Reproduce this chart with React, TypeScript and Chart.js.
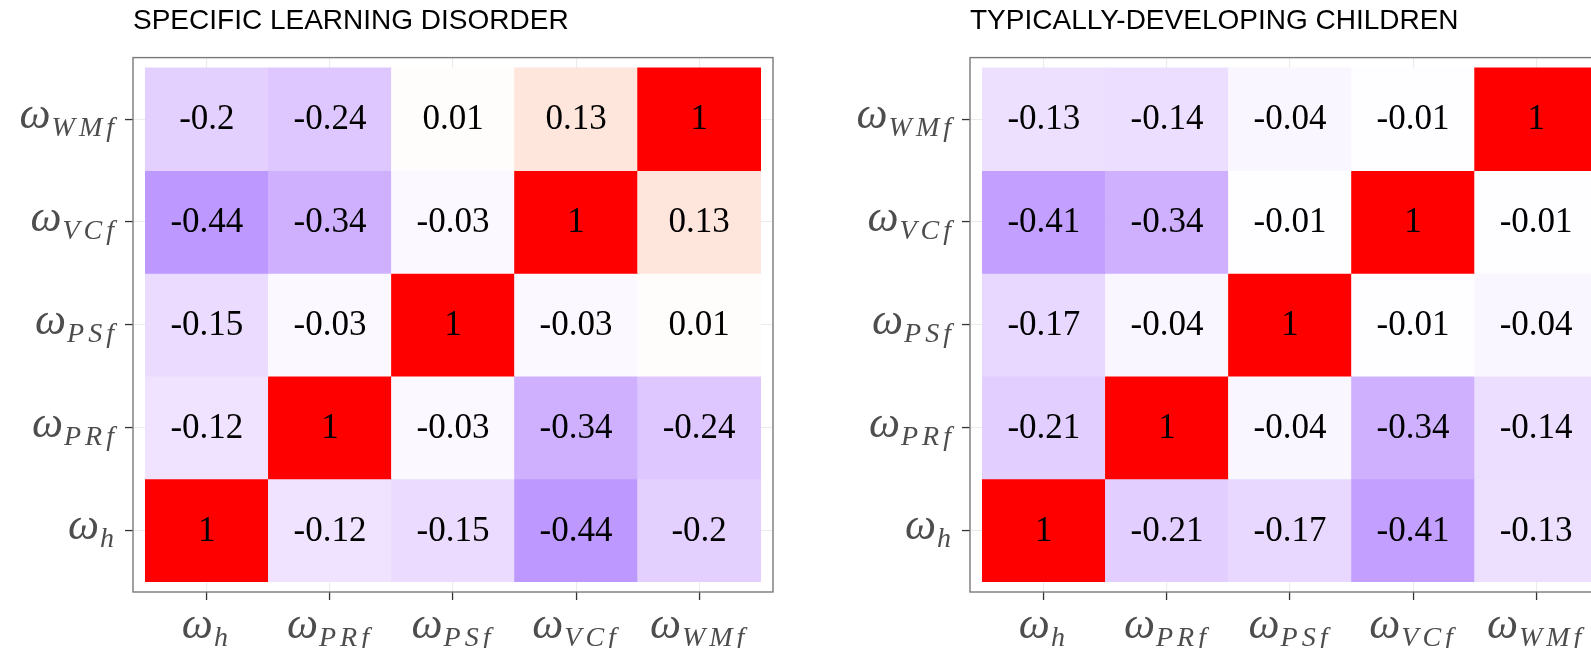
import React, { useEffect, useRef } from 'react';
import { Chart, registerables } from 'chart.js';

Chart.register(...registerables);

// ---- data ----
const axisLabels = ['ω_h', 'ω_PRf', 'ω_PSf', 'ω_VCf', 'ω_WMf'];
const axisPositions = [1, 2, 3, 4, 5];

const sldTitle = 'SPECIFIC LEARNING DISORDER';
const tdTitle = 'TYPICALLY-DEVELOPING CHILDREN';

// rows from bottom (ω_h) to top (ω_WMf); columns ω_h .. ω_WMf
const sldRowH = [1, -0.12, -0.15, -0.44, -0.2];
const sldRowPRf = [-0.12, 1, -0.03, -0.34, -0.24];
const sldRowPSf = [-0.15, -0.03, 1, -0.03, 0.01];
const sldRowVCf = [-0.44, -0.34, -0.03, 1, 0.13];
const sldRowWMf = [-0.2, -0.24, 0.01, 0.13, 1];

const tdRowH = [1, -0.21, -0.17, -0.41, -0.13];
const tdRowPRf = [-0.21, 1, -0.04, -0.34, -0.14];
const tdRowPSf = [-0.17, -0.04, 1, -0.01, -0.04];
const tdRowVCf = [-0.41, -0.34, -0.01, 1, -0.01];
const tdRowWMf = [-0.13, -0.14, -0.04, -0.01, 1];

const sldRows = [sldRowH, sldRowPRf, sldRowPSf, sldRowVCf, sldRowWMf];
const tdRows = [tdRowH, tdRowPRf, tdRowPSf, tdRowVCf, tdRowWMf];

// ---- colour scale (white -> blue / white -> red, Lab interpolation) ----
const Xn = 0.95047, Yn = 1.0, Zn = 1.08883;
function toLin(c: number) { c /= 255; return c <= 0.04045 ? c / 12.92 : Math.pow((c + 0.055) / 1.055, 2.4); }
function fromLin(c: number) { c = Math.max(0, Math.min(1, c)); const v = c <= 0.0031308 ? 12.92 * c : 1.055 * Math.pow(c, 1 / 2.4) - 0.055; return Math.round(v * 255); }
function f(t: number) { return t > 216 / 24389 ? Math.cbrt(t) : (t * 24389 / 27 + 16) / 116; }
function finv(t: number) { return t * t * t > 216 / 24389 ? t * t * t : (116 * t - 16) * 27 / 24389; }
function rgbToLab(rgb: number[]) {
  const [r, g, b] = rgb.map(toLin);
  const X = 0.4124 * r + 0.3576 * g + 0.1805 * b;
  const Y = 0.2126 * r + 0.7152 * g + 0.0722 * b;
  const Z = 0.0193 * r + 0.1192 * g + 0.9505 * b;
  const fx = f(X / Xn), fy = f(Y / Yn), fz = f(Z / Zn);
  return [116 * fy - 16, 500 * (fx - fy), 200 * (fy - fz)];
}
function labToRgb(lab: number[]) {
  const [L, a, bb] = lab;
  const fy = (L + 16) / 116, fx = fy + a / 500, fz = fy - bb / 200;
  const X = Xn * finv(fx), Y = Yn * finv(fy), Z = Zn * finv(fz);
  const r = 3.2406 * X - 1.5372 * Y - 0.4986 * Z;
  const g = -0.9689 * X + 1.8758 * Y + 0.0415 * Z;
  const b = 0.0557 * X - 0.204 * Y + 1.057 * Z;
  return [fromLin(r), fromLin(g), fromLin(b)];
}
const labWhite = rgbToLab([255, 255, 255]);
const labBlue = rgbToLab([0, 0, 255]);
const labRed = rgbToLab([255, 0, 0]);
function fillColor(v: number) {
  const t = Math.min(1, Math.abs(v));
  const end = v < 0 ? labBlue : labRed;
  const lab = labWhite.map((w, i) => w + (end[i] - w) * t);
  const [r, g, b] = labToRgb(lab);
  return `rgb(${r},${g},${b})`;
}

// ---- drawing helpers ----
const MATH_FONT = '"Liberation Serif", "DejaVu Serif", serif';
const BASE_SIZE = 44;
const SUB_SIZE = 28;
const SUB_SPACING = '4px';
const LABEL_COLOR = '#4d4d4d';

function drawMathLabel(ctx: CanvasRenderingContext2D, label: string, x: number, baseline: number, align: 'right' | 'center') {
  const [base, sub] = label.split('_');
  (ctx as any).letterSpacing = '0px';
  ctx.font = `italic ${BASE_SIZE}px ${MATH_FONT}`;
  const wb = ctx.measureText(base).width;
  ctx.font = `italic ${SUB_SIZE}px ${MATH_FONT}`;
  (ctx as any).letterSpacing = SUB_SPACING;
  const ws = ctx.measureText(sub).width;
  const gap = 1;
  const total = wb + gap + ws;
  const left = align === 'right' ? x - total : x - total / 2;
  ctx.textAlign = 'left';
  ctx.textBaseline = 'alphabetic';
  ctx.fillStyle = LABEL_COLOR;
  (ctx as any).letterSpacing = '0px';
  ctx.font = `italic ${BASE_SIZE}px ${MATH_FONT}`;
  ctx.fillText(base, left, baseline);
  ctx.font = `italic ${SUB_SIZE}px ${MATH_FONT}`;
  (ctx as any).letterSpacing = SUB_SPACING;
  ctx.fillText(sub, left + wb + gap, baseline + 8);
  (ctx as any).letterSpacing = '0px';
}

const decorPlugin = {
  id: 'heatDecor',
  afterDatasetsDraw(chart: any) {
    const ctx = chart.ctx as CanvasRenderingContext2D;
    const meta = chart.getDatasetMeta(0);
    const raw = chart.data.datasets[0].data as any[];
    ctx.save();
    ctx.fillStyle = '#000';
    ctx.font = `35px ${MATH_FONT}`;
    ctx.textAlign = 'center';
    ctx.textBaseline = 'middle';
    meta.data.forEach((el: any, i: number) => {
      const cy = (el.y + el.base) / 2;
      ctx.fillText(String(raw[i].v), el.x, cy + 1);
    });
    ctx.restore();
  },
  afterDraw(chart: any) {
    const ctx = chart.ctx as CanvasRenderingContext2D;
    const area = chart.chartArea;
    ctx.save();
    ctx.strokeStyle = '#7a7a7a';
    ctx.lineWidth = 1.4;
    ctx.strokeRect(area.left, area.top, area.right - area.left, area.bottom - area.top);
    const xs = chart.scales.x;
    const ys = chart.scales.y;
    axisPositions.forEach((p, i) => {
      const py = ys.getPixelForValue(p);
      drawMathLabel(ctx, axisLabels[i], area.left - 15, py + 9, 'right');
      const px = xs.getPixelForValue(p);
      drawMathLabel(ctx, axisLabels[i], px, area.bottom + 46, 'center');
    });
    ctx.restore();
  },
};

function HeatPanel({ title, rows, left }: { title: string; rows: number[][]; left: number }) {
  const ref = useRef<HTMLCanvasElement>(null);
  useEffect(() => {
    const cells: any[] = [];
    rows.forEach((row, ri) => {
      row.forEach((v, ci) => {
        const yc = axisPositions[ri];
        cells.push({ x: axisPositions[ci], y: [yc - 0.5, yc + 0.5], v });
      });
    });
    const gridCommon = {
      color: '#ebebeb',
      lineWidth: 1.1,
      drawTicks: true,
      tickLength: 8,
      tickColor: '#333333',
      tickWidth: 1.3,
      offset: false,
    };
    const chart = new Chart(ref.current as HTMLCanvasElement, {
      type: 'bar',
      data: {
        datasets: [
          {
            data: cells,
            backgroundColor: cells.map((c) => fillColor(c.v)),
            borderWidth: 0,
            barPercentage: 1,
            categoryPercentage: 1,
          } as any,
        ],
      },
      options: {
        animation: false,
        responsive: false,
        layout: { padding: { left: 0, right: 27, top: 0, bottom: 0 } },
        plugins: {
          legend: { display: false },
          tooltip: { enabled: false },
          title: {
            display: true,
            text: title,
            align: 'start',
            fullSize: false,
            color: '#000',
            font: { family: '"Liberation Sans", Arial, sans-serif', size: 28, weight: 'normal' },
            padding: { top: 4, bottom: 20 },
          },
        },
        scales: {
          x: {
            type: 'linear',
            min: 0.4,
            max: 5.6,
            offset: false,
            grid: gridCommon,
            border: { display: false },
            ticks: { display: false },
            afterBuildTicks: (axis: any) => { axis.ticks = axisPositions.map((v) => ({ value: v })); },
            afterFit: (s: any) => { s.height = 56; },
          },
          y: {
            type: 'linear',
            min: 0.4,
            max: 5.6,
            offset: false,
            grid: gridCommon,
            border: { display: false },
            ticks: { display: false },
            afterBuildTicks: (axis: any) => { axis.ticks = axisPositions.map((v) => ({ value: v })); },
            afterFit: (s: any) => { s.width = 133; },
          },
        },
      } as any,
      plugins: [decorPlugin],
    });
    return () => chart.destroy();
  }, []);
  return (
    <canvas
      ref={ref}
      width={800}
      height={648}
      style={{ position: 'absolute', left, top: 0, width: 800, height: 648 }}
    />
  );
}

export default function App() {
  return (
    <div style={{ position: 'fixed', left: 0, top: 0, width: 1591, height: 648, overflow: 'hidden', background: '#fff' }}>
      <HeatPanel title={sldTitle} rows={sldRows} left={0} />
      <HeatPanel title={tdTitle} rows={tdRows} left={837} />
    </div>
  );
}
